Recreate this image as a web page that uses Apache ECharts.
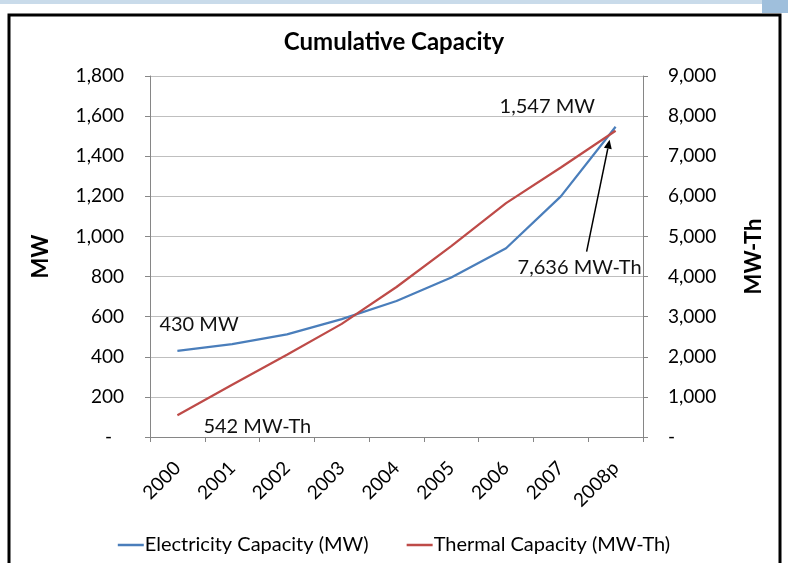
<!DOCTYPE html>
<html><head><meta charset="utf-8">
<script src="https://cdn.jsdelivr.net/npm/echarts@6/dist/echarts.min.js"></script>
<style>html,body{margin:0;padding:0;background:#fff}#c{width:788px;height:563px}</style>
</head><body><div id="c"></div>
<script>
const categories = ['2000','2001','2002','2003','2004','2005','2006','2007','2008p'];
const electricityMW = [430, 463, 512, 588, 678, 795, 941, 1200, 1547];
const thermalMWTh = [542, 1300, 2050, 2820, 3740, 4760, 5830, 6720, 7636];
const leftTicks = {min: 0, max: 1800, interval: 200};
const rightTicks = {min: 0, max: 9000, interval: 1000};

const FONT = 'Lato';
const fmt = v => v === 0 ? '-' : v.toLocaleString('en-US');
const fmtLeft = v => v === 0 ? '-\u2002\u2009' : v.toLocaleString('en-US');
const chart = echarts.init(document.getElementById('c'));
const axisGray = '#868686';
const gridGray = '#bfbfbf';
chart.setOption({
  backgroundColor: '#fff',
  animation: false,
  textStyle: {fontFamily: FONT},
  title: {text: 'Cumulative Capacity', left: 'center', top: 25,
    textStyle: {fontFamily: FONT, fontWeight: 'bold', fontSize: 24, color: '#000'}},
  grid: {left: 150, right: 145, top: 76, bottom: 126, containLabel: false},
  legend: {bottom: 3, left: 'center', itemWidth: 26, itemHeight: 2.5, itemGap: 38,
    icon: 'rect',
    textStyle: {fontFamily: FONT, fontSize: 20, color: '#000', padding: [0,0,0,-4]},
    data: ['Electricity Capacity (MW)', 'Thermal Capacity (MW-Th)']},
  xAxis: {type: 'category', data: categories, boundaryGap: true,
    axisLine: {lineStyle: {color: axisGray}},
    axisTick: {show: true, length: 5, lineStyle: {color: axisGray}},
    axisLabel: {rotate: 45, margin: 28, fontFamily: FONT, fontSize: 19, color: '#000', interval: 0}},
  yAxis: [
    {type: 'value', min: leftTicks.min, max: leftTicks.max, interval: leftTicks.interval,
     name: 'MW', nameLocation: 'middle', nameGap: 98, nameRotate: 90,
     nameTextStyle: {fontFamily: FONT, fontWeight: 'bold', fontSize: 22, color: '#000'},
     axisLine: {show: true, lineStyle: {color: axisGray}},
     axisTick: {show: true, length: 5, lineStyle: {color: axisGray}},
     splitLine: {lineStyle: {color: gridGray}},
     axisLabel: {margin: 26, formatter: fmtLeft, fontFamily: FONT, fontSize: 19, color: '#000'}},
    {type: 'value', min: rightTicks.min, max: rightTicks.max, interval: rightTicks.interval,
     position: 'right',
     name: 'MW-Th', nameLocation: 'middle', nameGap: 100, nameRotate: 90,
     nameTextStyle: {fontFamily: FONT, fontWeight: 'bold', fontSize: 22, color: '#000'},
     axisLine: {show: true, lineStyle: {color: axisGray}},
     axisTick: {show: true, length: 5, lineStyle: {color: axisGray}},
     splitLine: {show: false},
     axisLabel: {margin: 25, formatter: fmt, fontFamily: FONT, fontSize: 19, color: '#000'}}
  ],
  series: [
    {name: 'Electricity Capacity (MW)', type: 'line', data: electricityMW, yAxisIndex: 0,
     symbol: 'none', lineStyle: {color: '#4a7ebb', width: 2.25}, itemStyle: {color: '#4a7ebb'}},
    {name: 'Thermal Capacity (MW-Th)', type: 'line', data: thermalMWTh, yAxisIndex: 1,
     symbol: 'none', lineStyle: {color: '#be4b48', width: 2.25}, itemStyle: {color: '#be4b48'}}
  ]
});

const last = categories.length - 1;
const e0 = chart.convertToPixel({xAxisIndex: 0, yAxisIndex: 0}, [categories[0], electricityMW[0]]);
const t0 = chart.convertToPixel({xAxisIndex: 0, yAxisIndex: 1}, [categories[0], thermalMWTh[0]]);
const eN = chart.convertToPixel({xAxisIndex: 0, yAxisIndex: 0}, [categories[last], electricityMW[last]]);
const tN = chart.convertToPixel({xAxisIndex: 0, yAxisIndex: 1}, [categories[last], thermalMWTh[last]]);
const ts = {fontFamily: FONT, fontSize: 20, fill: '#111', textVerticalAlign: 'middle'};
const tail = [tN[0] - 29, tN[1] + 121];
const head = [tN[0] - 6, tN[1] + 9];
const ang = Math.atan2(head[1] - tail[1], head[0] - tail[0]);
const ah = 9, aw = 4;
const bx = head[0] - ah * Math.cos(ang), by = head[1] - ah * Math.sin(ang);
chart.setOption({graphic: [
  {type: 'rect', shape: {x: 0, y: 0, width: 788, height: 4}, style: {fill: '#c9dbea'}, silent: true},
  {type: 'rect', shape: {x: 762, y: 0, width: 26, height: 13}, style: {fill: '#9fbfdc'}, silent: true},
  {type: 'rect', shape: {x: 9, y: 15, width: 771, height: 560}, style: {fill: 'none', stroke: '#000', lineWidth: 3}, silent: true},
  {type: 'text', x: e0[0] - 18, y: e0[1] - 26, style: Object.assign({text: fmt(electricityMW[0]) + ' MW'}, ts)},
  {type: 'text', x: t0[0] + 26, y: t0[1] + 11, style: Object.assign({text: thermalMWTh[0] + ' MW-Th'}, ts)},
  {type: 'text', x: eN[0] - 116, y: eN[1] - 20, style: Object.assign({text: fmt(electricityMW[last]) + ' MW'}, ts)},
  {type: 'text', x: tN[0] - 98, y: tN[1] + 137, style: Object.assign({text: fmt(thermalMWTh[last]) + ' MW-Th'}, ts)},
  {type: 'line', shape: {x1: tail[0], y1: tail[1], x2: bx, y2: by}, style: {stroke: '#000', lineWidth: 1.5}},
  {type: 'polygon', shape: {points: [head,
     [bx + aw * Math.sin(ang), by - aw * Math.cos(ang)],
     [bx - aw * Math.sin(ang), by + aw * Math.cos(ang)]]}, style: {fill: '#000'}}
]});
</script></body></html>
